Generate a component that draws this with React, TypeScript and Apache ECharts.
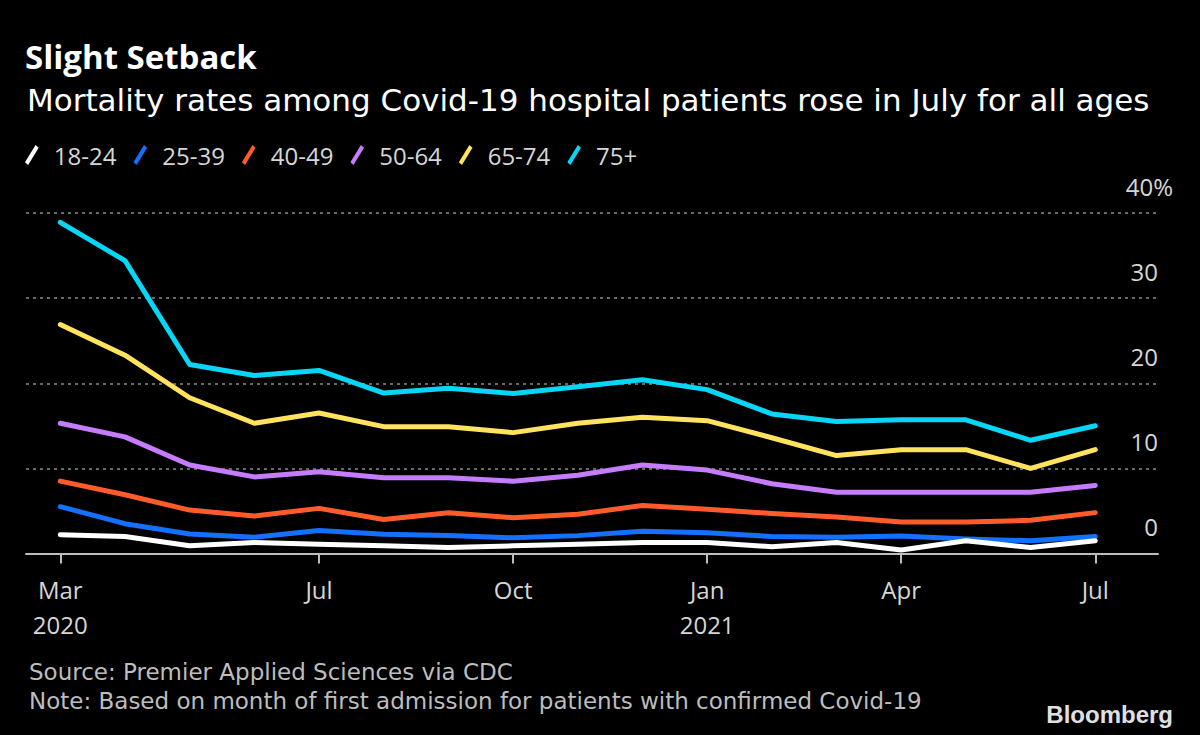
import React, { useEffect, useRef } from "react";
import * as echarts from "echarts";

const monthIndex = [0, 1, 2, 3, 4, 5, 6, 7, 8, 9, 10, 11, 12, 13, 14, 15, 16];
const tickIndex = [0, 4, 7, 10, 13, 16];
const tickLabels = ["Mar\n2020", "Jul", "Oct", "Jan\n2021", "Apr", "Jul"];

const seriesNames = ["18-24", "25-39", "40-49", "50-64", "65-74", "75+"];
const seriesColors = ["#ffffff", "#1470ff", "#ff5b2b", "#c57cff", "#ffe35e", "#08d6f7"];

const age18_24 = [2.2, 2.0, 0.9, 1.3, 1.1, 0.9, 0.7, 0.9, 1.1, 1.3, 1.3, 0.8, 1.3, 0.4, 1.5, 0.7, 1.5];
const age25_39 = [5.5, 3.5, 2.3, 1.9, 2.7, 2.25, 2.1, 1.85, 2.1, 2.6, 2.45, 2.0, 1.9, 2.05, 1.7, 1.5, 2.0];
const age40_49 = [8.5, 6.9, 5.1, 4.4, 5.3, 4.0, 4.8, 4.2, 4.6, 5.65, 5.2, 4.7, 4.3, 3.7, 3.7, 3.9, 4.8];
const age50_64 = [15.3, 13.7, 10.4, 9.0, 9.6, 8.9, 8.9, 8.5, 9.2, 10.4, 9.8, 8.2, 7.2, 7.2, 7.2, 7.2, 8.0];
const age65_74 = [26.9, 23.3, 18.3, 15.3, 16.5, 14.9, 14.9, 14.2, 15.3, 16.0, 15.6, 13.6, 11.5, 12.2, 12.2, 10.0, 12.2];
const age75plus = [38.9, 34.4, 22.2, 20.9, 21.5, 18.85, 19.4, 18.8, 19.6, 20.4, 19.25, 16.4, 15.5, 15.7, 15.7, 13.3, 15.0];

const allSeries = [age18_24, age25_39, age40_49, age50_64, age65_74, age75plus];

const FONT = "'Open Sans', 'DejaVu Sans', sans-serif";
const WIDE = "'DejaVu Sans', 'Open Sans', sans-serif";

export default function App() {
  const ref = useRef<HTMLDivElement>(null);
  useEffect(() => {
    if (!ref.current) return;
    const chart = echarts.init(ref.current, undefined, { renderer: "svg" });
    const legendIcon = "path://M10,0 L13,2.5 L3,19 L0,16.5 Z";
    chart.setOption({
      animation: false,
      backgroundColor: "#000000",
      textStyle: { fontFamily: FONT },
      title: [
        {
          text: "Slight Setback",
          left: 20,
          top: 35,
          textStyle: { color: "#ffffff", fontSize: 33, fontWeight: "bold", fontFamily: FONT },
        },
        {
          text: "Mortality rates among Covid-19 hospital patients rose in July for all ages",
          left: 22,
          top: 79,
          textStyle: { color: "#ffffff", fontSize: 31, fontWeight: "normal", fontFamily: WIDE },
        },
        {
          text: "Source: Premier Applied Sciences via CDC",
          left: 24,
          top: 655,
          textStyle: { color: "#bdbdbd", fontSize: 23, fontWeight: "normal", fontFamily: WIDE },
        },
        {
          text: "Note: Based on month of first admission for patients with confirmed Covid-19",
          left: 24,
          top: 684,
          textStyle: { color: "#bdbdbd", fontSize: 23, fontWeight: "normal", fontFamily: WIDE },
        },
        {
          text: "Bloomberg",
          right: 22,
          top: 697,
          textStyle: { color: "#e0e0e0", fontSize: 24, fontWeight: "bold", fontFamily: "'Liberation Sans', Arial, sans-serif" },
        },
      ],
      legend: {
        left: 20,
        top: 138,
        itemWidth: 14,
        itemHeight: 20,
        itemGap: 17,
        icon: legendIcon,
        data: seriesNames,
        textStyle: { color: "#d6d6d6", fontSize: 24, fontFamily: FONT, padding: [0, 0, 0, 10] },
      },
      grid: { left: 26, right: 42, top: 213, bottom: 181.5, containLabel: false },
      xAxis: {
        type: "value",
        min: -0.53,
        max: 16.97,
        axisLine: { show: true, lineStyle: { color: "#bdbdbd", width: 2 } },
        axisTick: { show: true, length: 10, customValues: tickIndex, lineStyle: { color: "#bdbdbd", width: 2 } },
        axisLabel: {
          customValues: tickIndex,
          formatter: (v: number) => {
            const i = tickIndex.indexOf(Math.round(v));
            return i >= 0 ? tickLabels[i] : "";
          },
          color: "#d6d6d6",
          fontSize: 24,
          lineHeight: 35,
          margin: 18,
          fontFamily: FONT,
        },
        splitLine: { show: false },
      },
      yAxis: {
        type: "value",
        position: "right",
        min: 0,
        max: 40,
        interval: 10,
        axisLine: { show: false },
        axisTick: { show: false },
        splitLine: { show: true, lineStyle: { color: "#8a8a8a", width: 1.5, type: [3, 4] } },
        axisLabel: {
          inside: true,
          margin: -15,
          align: "right",
          verticalAlign: "bottom",
          padding: [0, 0, 15, 0],
          color: "#d6d6d6",
          fontSize: 24,
          fontFamily: FONT,
          formatter: (v: number) => (v === 40 ? "40{p|%}" : v + "{s|}"),
          rich: {
            p: { color: "#d6d6d6", fontSize: 24, fontFamily: FONT },
            s: { width: 15, fontSize: 24 },
          },
        },
      },
      series: seriesNames.map((name, k) => ({
        name,
        type: "line",
        symbol: "none",
        color: seriesColors[k],
        lineStyle: { width: 5, color: seriesColors[k], cap: "round", join: "round" },
        z: 2 + (seriesNames.length - k),
        data: monthIndex.map((i) => [i, allSeries[k][i]]),
      })),
    });
    return () => chart.dispose();
  }, []);
  return (
    <div
      ref={ref}
      style={{ position: "absolute", left: 0, top: 0, width: 1200, height: 735, background: "#000" }}
    />
  );
}
